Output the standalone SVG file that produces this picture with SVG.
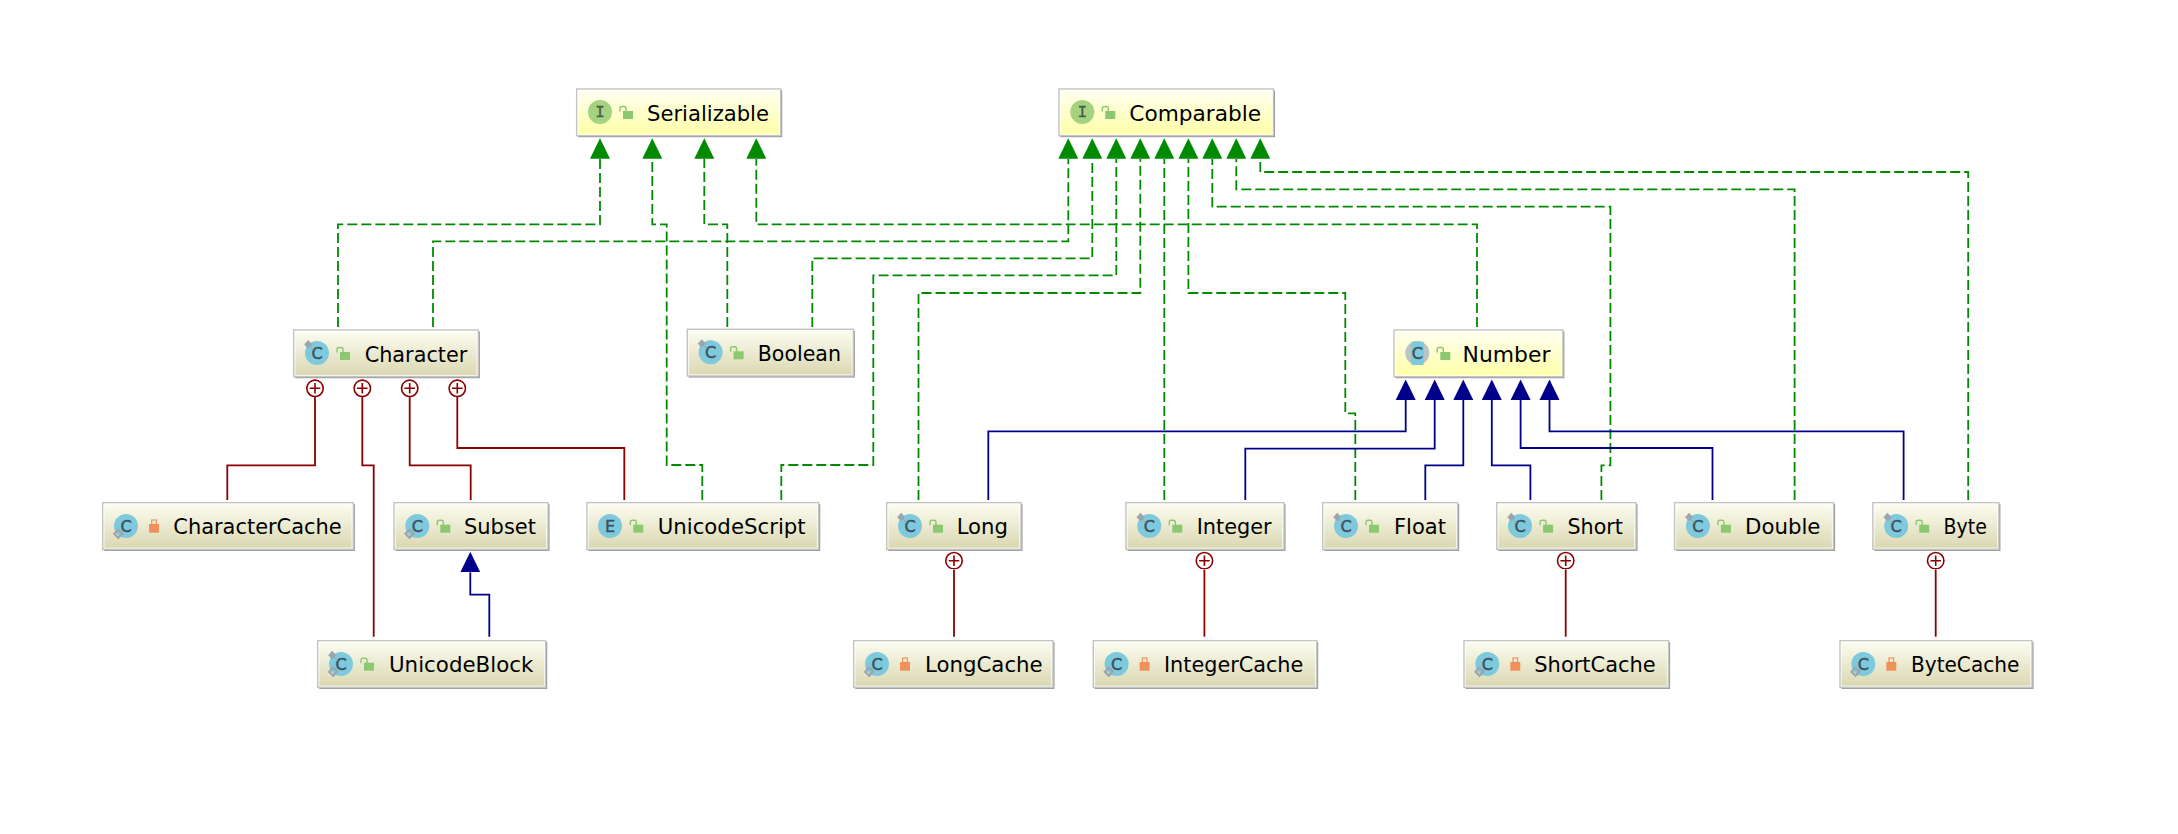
<svg xmlns="http://www.w3.org/2000/svg" width="2178" height="834" viewBox="0 0 2178 834">
<style>
.sh{fill:#8f8f8f}
.box{stroke:#c4c4c4;stroke-width:1.5}
.cl{fill:url(#gc)}
.if{fill:url(#gi)}
.hl{fill:none;stroke:#fff;stroke-width:1;opacity:.75}
.teal{fill:#7fc9dc}
.grn{fill:#a4d37f}
.lt{font:16px "DejaVu Sans",sans-serif;fill:#3d525e;stroke:#3d525e;stroke-width:.5;text-anchor:middle}
.lti{font:16px "Liberation Mono",monospace;fill:#4c5a45;stroke:#4c5a45;stroke-width:.3;text-anchor:middle}
.lbl{font:22px "DejaVu Sans",sans-serif;fill:#000}
.gl,.bl,.rl{fill:none;stroke-width:1.8}
.gl{stroke:#008a00;stroke-dasharray:10 4;marker-end:url(#ag)}
.bl{stroke:#00008b;marker-end:url(#ab)}
.rl{stroke:#8b0000;marker-end:url(#ar)}
</style>
<defs>
<linearGradient id="gc" x1="0" y1="0" x2="0" y2="1"><stop offset="0" stop-color="#fdfdf2"/><stop offset="1" stop-color="#d9d7b0"/></linearGradient>
<linearGradient id="gi" x1="0" y1="0" x2="0" y2="1"><stop offset="0" stop-color="#fffff2"/><stop offset="1" stop-color="#fefea6"/></linearGradient>
<marker id="ag" markerUnits="userSpaceOnUse" markerWidth="21" markerHeight="21" viewBox="0 0 21 21" refX="0" refY="10.5" orient="auto"><path d="M0,0.5L20.5,10.5L0,20.5z" fill="#008a00"/></marker>
<marker id="ab" markerUnits="userSpaceOnUse" markerWidth="21" markerHeight="21" viewBox="0 0 21 21" refX="0" refY="10.5" orient="auto"><path d="M0,0.5L20.5,10.5L0,20.5z" fill="#00008b"/></marker>
<marker id="ar" markerUnits="userSpaceOnUse" markerWidth="20" markerHeight="20" viewBox="0 0 20 20" refX="0" refY="10" orient="auto"><circle cx="8.7" cy="10" r="8.2" fill="#fff" stroke="#8b0000" stroke-width="1.6"/><path d="M3.5,10H14M8.7,4.7V15.3" stroke="#8b0000" stroke-width="1.6" fill="none"/></marker>
<g id="pub"><rect x="46.3" y="22" width="10" height="8" fill="#8cc870"/><path d="M43.3,22.5v-3a2,2 0 0 1 2-2h2a2,2 0 0 1 2,2v3" fill="none" stroke="#8cc870" stroke-width="1.4"/></g>
<g id="pri"><rect x="46.3" y="21.3" width="10" height="8.7" fill="#f0905a"/><rect x="49" y="17.3" width="4.6" height="4.5" fill="none" stroke="#f0905a" stroke-width="1.2"/></g>
<g id="pin"><path d="M10.5,14.5l4-4.5l4,4.5l-4,4z" fill="#9aa5b0"/><path d="M16,16l4,4" stroke="#9aa5b0" stroke-width="1" fill="none"/></g>
<path id="dia" d="M11.5,31l4-4l4,4l-4,4z" fill="none" stroke="#9aa5b0" stroke-width="2.2"/>
</defs>
<rect width="2178" height="834" fill="#fff"/>
<g id="connectors">
<path class="gl" d="M338,327V224.3H600V158.7"/>
<path class="gl" d="M702.3,500V465H666.7V224.3H652.3V158.7"/>
<path class="gl" d="M727.3,327V224.3H704.3V158.7"/>
<path class="gl" d="M1477,327V224.3H756.3V158.7"/>
<path class="gl" d="M433,327V241.3H1068.3V158.7"/>
<path class="gl" d="M812.3,327V258.3H1092.3V158.7"/>
<path class="gl" d="M781.3,500V465H873.3V275.3H1116.3V158.7"/>
<path class="gl" d="M918.5,500V293H1140.3V158.7"/>
<path class="gl" d="M1164.3,500V158.7"/>
<path class="gl" d="M1355.3,500V413.3H1345.3V293H1188.4V158.7"/>
<path class="gl" d="M1601.4,500V465.3H1610.4V206.7H1212.3V158.7"/>
<path class="gl" d="M1794.6,500V189.3H1236.3V158.7"/>
<path class="gl" d="M1968.2,500V172H1260.3V158.7"/>
<path class="bl" d="M988.3,500V431.3H1405.7V400"/>
<path class="bl" d="M1245.3,500V448.7H1434.7V400"/>
<path class="bl" d="M1425.3,500V465.3H1463.3V400"/>
<path class="bl" d="M1530.4,500V465.3H1491.8V400"/>
<path class="bl" d="M1712.5,500V448H1520.6V400"/>
<path class="bl" d="M1903.6,500V431.3H1549.5V400"/>
<path class="bl" d="M489.3,636.7V594.7H470.3V572.3"/>
<path class="rl" d="M227.3,500V465.3H315V397"/>
<path class="rl" d="M373.7,636.7V465.3H362.3V397"/>
<path class="rl" d="M470.7,500V465.3H409.7V397"/>
<path class="rl" d="M624.3,500V448H457.3V397"/>
<path class="rl" d="M954,636.7V569.4"/>
<path class="rl" d="M1204.4,636.7V569.4"/>
<path class="rl" d="M1565.7,636.7V569.4"/>
<path class="rl" d="M1935.7,636.7V569.4"/>
</g>
<g id="Serializable"><rect class="sh" x="578.2" y="90.5" width="204" height="46.7"/><rect class="box if" x="576.7" y="89" width="204" height="46.7"/><rect class="hl" x="578" y="90.3" width="201.4" height="44.1"/><circle class="grn" cx="600" cy="112" r="12"/><text class="lti" x="600" y="117">I</text><use href="#pub" x="576.7" y="89"/><text class="lbl" x="647" y="120.7" textLength="122" lengthAdjust="spacingAndGlyphs">Serializable</text></g>
<g id="Comparable"><rect class="sh" x="1060.5" y="90.5" width="214.5" height="46.7"/><rect class="box if" x="1059" y="89" width="214.5" height="46.7"/><rect class="hl" x="1060.3" y="90.3" width="211.9" height="44.1"/><circle class="grn" cx="1082.3" cy="112" r="12"/><text class="lti" x="1082.3" y="117">I</text><use href="#pub" x="1059" y="89"/><text class="lbl" x="1129.3" y="120.7" textLength="131.7" lengthAdjust="spacingAndGlyphs">Comparable</text></g>
<g id="Character"><rect class="sh" x="295.2" y="331.5" width="184.6" height="46.7"/><rect class="box cl" x="293.7" y="330" width="184.6" height="46.7"/><rect class="hl" x="295" y="331.3" width="182" height="44.1"/><circle class="teal" cx="317" cy="353" r="12"/><text class="lt" x="317" y="358.8">C</text><use href="#pin" x="293.7" y="330"/><use href="#pub" x="293.7" y="330"/><text class="lbl" x="364.7" y="361.7" textLength="102.6" lengthAdjust="spacingAndGlyphs">Character</text></g>
<g id="Boolean"><rect class="sh" x="688.8" y="330.8" width="166" height="46.7"/><rect class="box cl" x="687.3" y="329.3" width="166" height="46.7"/><rect class="hl" x="688.6" y="330.6" width="163.4" height="44.1"/><circle class="teal" cx="710.6" cy="352.3" r="12"/><text class="lt" x="710.6" y="358.1">C</text><use href="#pin" x="687.3" y="329.3"/><use href="#pub" x="687.3" y="329.3"/><text class="lbl" x="757.7" y="361" textLength="83.3" lengthAdjust="spacingAndGlyphs">Boolean</text></g>
<g id="Number"><rect class="sh" x="1395.5" y="331.5" width="168.9" height="46.7"/><rect class="box if" x="1394" y="330" width="168.9" height="46.7"/><rect class="hl" x="1395.3" y="331.3" width="166.3" height="44.1"/><circle cx="1417.3" cy="353" r="12" fill="#b8c4c6"/><rect class="teal" x="1411" y="341.5" width="13" height="23.5" rx="2"/><text class="lt" x="1417.3" y="358.8">C</text><use href="#pub" x="1394" y="330"/><text class="lbl" x="1462.6" y="361.7" textLength="87.8" lengthAdjust="spacingAndGlyphs">Number</text></g>
<g id="CharacterCache"><rect class="sh" x="104.2" y="504.2" width="250.6" height="46.7"/><rect class="box cl" x="102.7" y="502.7" width="250.6" height="46.7"/><rect class="hl" x="104" y="504" width="248" height="44.1"/><circle class="teal" cx="126" cy="526" r="12"/><text class="lt" x="126" y="531.8">C</text><use href="#dia" x="102.7" y="502.7"/><use href="#pri" x="102.7" y="502.7"/><text class="lbl" x="173.3" y="534.4" textLength="168.4" lengthAdjust="spacingAndGlyphs">CharacterCache</text></g>
<g id="Subset"><rect class="sh" x="395.5" y="504.2" width="154" height="46.7"/><rect class="box cl" x="394" y="502.7" width="154" height="46.7"/><rect class="hl" x="395.3" y="504" width="151.4" height="44.1"/><circle class="teal" cx="417.3" cy="526" r="12"/><text class="lt" x="417.3" y="531.8">C</text><use href="#dia" x="394" y="502.7"/><use href="#pub" x="394" y="502.7"/><text class="lbl" x="464" y="534.4" textLength="72" lengthAdjust="spacingAndGlyphs">Subset</text></g>
<g id="UnicodeScript"><rect class="sh" x="588.5" y="504.2" width="231.7" height="46.7"/><rect class="box cl" x="587" y="502.7" width="231.7" height="46.7"/><rect class="hl" x="588.3" y="504" width="229.1" height="44.1"/><circle class="teal" cx="610" cy="526" r="12"/><text class="lt" x="610" y="531.8">E</text><use href="#pub" x="587" y="502.7"/><text class="lbl" x="657.7" y="534.4" textLength="148" lengthAdjust="spacingAndGlyphs">UnicodeScript</text></g>
<g id="Long"><rect class="sh" x="888.2" y="504.2" width="134.3" height="46.7"/><rect class="box cl" x="886.7" y="502.7" width="134.3" height="46.7"/><rect class="hl" x="888" y="504" width="131.7" height="44.1"/><circle class="teal" cx="910" cy="526" r="12"/><text class="lt" x="910" y="531.8">C</text><use href="#pin" x="886.7" y="502.7"/><use href="#pub" x="886.7" y="502.7"/><text class="lbl" x="956.7" y="534.4" textLength="51.3" lengthAdjust="spacingAndGlyphs">Long</text></g>
<g id="Integer"><rect class="sh" x="1127.5" y="504.2" width="158" height="46.7"/><rect class="box cl" x="1126" y="502.7" width="158" height="46.7"/><rect class="hl" x="1127.3" y="504" width="155.4" height="44.1"/><circle class="teal" cx="1149.3" cy="526" r="12"/><text class="lt" x="1149.3" y="531.8">C</text><use href="#pin" x="1126" y="502.7"/><use href="#pub" x="1126" y="502.7"/><text class="lbl" x="1196.7" y="534.4" textLength="75" lengthAdjust="spacingAndGlyphs">Integer</text></g>
<g id="Float"><rect class="sh" x="1324.2" y="504.2" width="135" height="46.7"/><rect class="box cl" x="1322.7" y="502.7" width="135" height="46.7"/><rect class="hl" x="1324" y="504" width="132.4" height="44.1"/><circle class="teal" cx="1346" cy="526" r="12"/><text class="lt" x="1346" y="531.8">C</text><use href="#pin" x="1322.7" y="502.7"/><use href="#pub" x="1322.7" y="502.7"/><text class="lbl" x="1394" y="534.4" textLength="52" lengthAdjust="spacingAndGlyphs">Float</text></g>
<g id="Short"><rect class="sh" x="1498.3" y="504.2" width="139.2" height="46.7"/><rect class="box cl" x="1496.8" y="502.7" width="139.2" height="46.7"/><rect class="hl" x="1498.1" y="504" width="136.6" height="44.1"/><circle class="teal" cx="1520" cy="526" r="12"/><text class="lt" x="1520" y="531.8">C</text><use href="#pin" x="1496.8" y="502.7"/><use href="#pub" x="1496.8" y="502.7"/><text class="lbl" x="1567.5" y="534.4" textLength="55.4" lengthAdjust="spacingAndGlyphs">Short</text></g>
<g id="Double"><rect class="sh" x="1676.1" y="504.2" width="159" height="46.7"/><rect class="box cl" x="1674.6" y="502.7" width="159" height="46.7"/><rect class="hl" x="1675.9" y="504" width="156.4" height="44.1"/><circle class="teal" cx="1697.9" cy="526" r="12"/><text class="lt" x="1697.9" y="531.8">C</text><use href="#pin" x="1674.6" y="502.7"/><use href="#pub" x="1674.6" y="502.7"/><text class="lbl" x="1745" y="534.4" textLength="75.4" lengthAdjust="spacingAndGlyphs">Double</text></g>
<g id="Byte"><rect class="sh" x="1874.4" y="504.2" width="126" height="46.7"/><rect class="box cl" x="1872.9" y="502.7" width="126" height="46.7"/><rect class="hl" x="1874.2" y="504" width="123.4" height="44.1"/><circle class="teal" cx="1896.2" cy="526" r="12"/><text class="lt" x="1896.2" y="531.8">C</text><use href="#pin" x="1872.9" y="502.7"/><use href="#pub" x="1872.9" y="502.7"/><text class="lbl" x="1943.6" y="534.4" textLength="43.4" lengthAdjust="spacingAndGlyphs">Byte</text></g>
<g id="UnicodeBlock"><rect class="sh" x="319.2" y="642.2" width="228" height="46.7"/><rect class="box cl" x="317.7" y="640.7" width="228" height="46.7"/><rect class="hl" x="319" y="642" width="225.4" height="44.1"/><circle class="teal" cx="341" cy="664" r="12"/><text class="lt" x="341" y="669.8">C</text><use href="#pin" x="317.7" y="640.7"/><use href="#dia" x="317.7" y="640.7"/><use href="#pub" x="317.7" y="640.7"/><text class="lbl" x="389" y="672.4" textLength="144.3" lengthAdjust="spacingAndGlyphs">UnicodeBlock</text></g>
<g id="LongCache"><rect class="sh" x="855.2" y="642.2" width="199.3" height="46.7"/><rect class="box cl" x="853.7" y="640.7" width="199.3" height="46.7"/><rect class="hl" x="855" y="642" width="196.7" height="44.1"/><circle class="teal" cx="877" cy="664" r="12"/><text class="lt" x="877" y="669.8">C</text><use href="#dia" x="853.7" y="640.7"/><use href="#pri" x="853.7" y="640.7"/><text class="lbl" x="925" y="672.4" textLength="117.7" lengthAdjust="spacingAndGlyphs">LongCache</text></g>
<g id="IntegerCache"><rect class="sh" x="1094.8" y="642.2" width="223.4" height="46.7"/><rect class="box cl" x="1093.3" y="640.7" width="223.4" height="46.7"/><rect class="hl" x="1094.6" y="642" width="220.8" height="44.1"/><circle class="teal" cx="1116.6" cy="664" r="12"/><text class="lt" x="1116.6" y="669.8">C</text><use href="#dia" x="1093.3" y="640.7"/><use href="#pri" x="1093.3" y="640.7"/><text class="lbl" x="1164" y="672.4" textLength="139.3" lengthAdjust="spacingAndGlyphs">IntegerCache</text></g>
<g id="ShortCache"><rect class="sh" x="1465.5" y="642.2" width="204.6" height="46.7"/><rect class="box cl" x="1464" y="640.7" width="204.6" height="46.7"/><rect class="hl" x="1465.3" y="642" width="202" height="44.1"/><circle class="teal" cx="1487.3" cy="664" r="12"/><text class="lt" x="1487.3" y="669.8">C</text><use href="#dia" x="1464" y="640.7"/><use href="#pri" x="1464" y="640.7"/><text class="lbl" x="1534.3" y="672.4" textLength="121.4" lengthAdjust="spacingAndGlyphs">ShortCache</text></g>
<g id="ByteCache"><rect class="sh" x="1841.5" y="642.2" width="192" height="46.7"/><rect class="box cl" x="1840" y="640.7" width="192" height="46.7"/><rect class="hl" x="1841.3" y="642" width="189.4" height="44.1"/><circle class="teal" cx="1863.3" cy="664" r="12"/><text class="lt" x="1863.3" y="669.8">C</text><use href="#dia" x="1840" y="640.7"/><use href="#pri" x="1840" y="640.7"/><text class="lbl" x="1911" y="672.4" textLength="108.3" lengthAdjust="spacingAndGlyphs">ByteCache</text></g>
</svg>
